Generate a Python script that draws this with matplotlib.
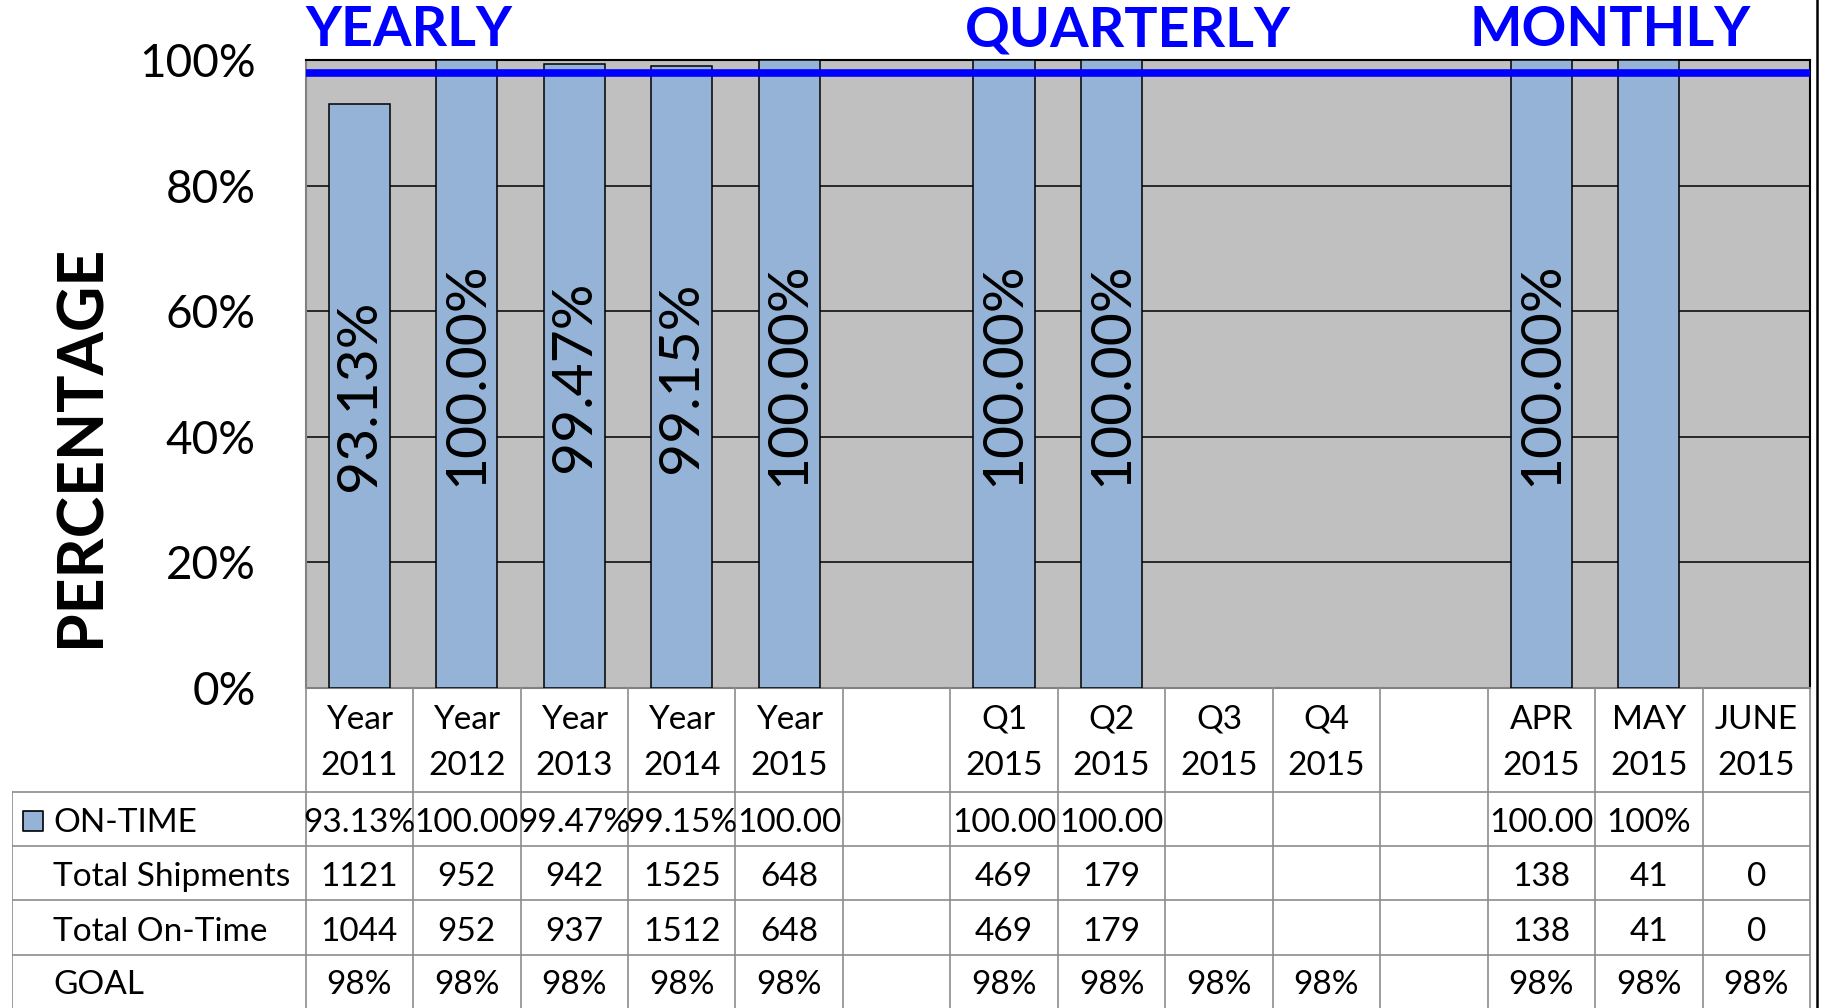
import numpy as np
import matplotlib
matplotlib.use("Agg")
import matplotlib.pyplot as plt
from matplotlib.lines import Line2D
from matplotlib.transforms import blended_transform_factory

plt.rcParams['font.family'] = ['Lato', 'DejaVu Sans']

# --- data ---
categories = ['Year\n2011', 'Year\n2012', 'Year\n2013', 'Year\n2014', 'Year\n2015', '',
              'Q1\n2015', 'Q2\n2015', 'Q3\n2015', 'Q4\n2015', '',
              'APR\n2015', 'MAY\n2015', 'JUNE\n2015']
on_time = [93.13, 100.0, 99.47, 99.15, 100.0, np.nan,
           100.0, 100.0, np.nan, np.nan, np.nan,
           100.0, 100.0, np.nan]
bar_labels = ['93.13%', '100.00%', '99.47%', '99.15%', '100.00%', '',
              '100.00%', '100.00%', '', '', '',
              '100.00%', '', '']
on_time_text = ['93.13%', '100.00', '99.47%', '99.15%', '100.00', '',
                '100.00', '100.00', '', '', '',
                '100.00', '100%', '']
total_shipments = ['1121', '952', '942', '1525', '648', '',
                   '469', '179', '', '', '',
                   '138', '41', '0']
total_on_time = ['1044', '952', '937', '1512', '648', '',
                 '469', '179', '', '', '',
                 '138', '41', '0']
goal = 98.0
goal_text = ['98%', '98%', '98%', '98%', '98%', '',
             '98%', '98%', '98%', '98%', '',
             '98%', '98%', '98%']
row_labels = ['ON-TIME', 'Total Shipments', 'Total On-Time', 'GOAL']
section_titles = ['YEARLY', 'QUARTERLY', 'MONTHLY']
section_centers = [0.46, 7.15, 11.64]

bar_color = '#95B3D7'
W, H = 1822, 1008
plot_l, plot_r, plot_t, plot_b = 305.6, 1810.0, 60.4, 688.0
leg_l = 11.6
n = len(categories)
col_w = (plot_r - plot_l) / n

fig = plt.figure(figsize=(W / 100, H / 100), dpi=100)
ax = fig.add_axes([plot_l / W, 1 - plot_b / H, (plot_r - plot_l) / W, (plot_b - plot_t) / H])
ax.set_facecolor('#C0C0C0')

x = np.arange(n)
ax.bar(x, on_time, width=0.57, color=bar_color, edgecolor='black', linewidth=1.1, zorder=3)
for xi, v, lab in zip(x, on_time, bar_labels):
    if lab:
        ax.text(xi, v / 2, lab, rotation=90, ha='center', va='center',
                fontsize=41, color='black', zorder=5)

ax.axhline(goal, color='#0000FF', linewidth=5.5, zorder=4)

ax.set_xlim(-0.5, n - 0.5)
ax.set_ylim(0, 100)
ax.set_yticks([0, 20, 40, 60, 80, 100])
ax.set_yticklabels(['0%', '20%', '40%', '60%', '80%', '100%'], fontsize=33)
ax.tick_params(axis='y', length=0, pad=36)
ax.set_xticks([])
ax.yaxis.grid(True, color='black', linewidth=1.1, zorder=1)
ax.set_axisbelow(True)
for side in ['top', 'right']:
    ax.spines[side].set_color('black')
    ax.spines[side].set_linewidth(1.5)
for side in ['left', 'bottom']:
    ax.spines[side].set_color('#808080')
    ax.spines[side].set_linewidth(1.5)

trans = blended_transform_factory(ax.transData, fig.transFigure)
for title, cx in zip(section_titles, section_centers):
    fig.text(cx, 1 - 30 / H, title, transform=trans, ha='center', va='center',
             fontsize=40, fontweight='bold', color='#0000FF')

fig.text(82 / W, 1 - 446 / H, 'PERCENTAGE', rotation=90, ha='center', va='center',
         fontsize=45, fontweight='bold', color='black')

# --- data table below the plot ---
tax = fig.add_axes([leg_l / W, 0, (plot_r - leg_l) / W, (H - plot_b) / H])
x_left = -0.5 - (plot_l - leg_l) / col_w
tax.set_xlim(x_left, n - 0.5)
tax.set_ylim(H, plot_b)
tax.axis('off')

def px2x(px):
    return x_left + (px - leg_l) / col_w

grid_c = '#8C8C8C'
row_edges = [plot_b, 792.0, 846.0, 900.5, 955.0, H]
for k in range(-1, n):
    tax.plot([k + 0.5, k + 0.5], [plot_b, H], color=grid_c, lw=1.2, clip_on=False)
tax.plot([x_left, x_left], [row_edges[1], H], color=grid_c, lw=1.2)
for y in row_edges[1:-1]:
    tax.plot([x_left, n - 0.5], [y, y], color=grid_c, lw=1.2)

head_y = (row_edges[0] + row_edges[1]) / 2 + 3
for xi, cat in zip(x, categories):
    tax.text(xi, head_y, cat, ha='center', va='center', fontsize=24, linespacing=1.7)

rows = [on_time_text, total_shipments, total_on_time, goal_text]
for r, (lab, vals) in enumerate(zip(row_labels, rows)):
    cy = (row_edges[r + 1] + row_edges[r + 2]) / 2 + 4
    tax.text(px2x(53), cy, lab, ha='left', va='center', fontsize=24)
    for xi, s in zip(x, vals):
        if s:
            tax.text(xi, cy, s, ha='center', va='center', fontsize=24)

key_y = (row_edges[1] + row_edges[2]) / 2 + 2
tax.scatter([px2x(33)], [key_y], marker='s', s=200, color=bar_color,
            edgecolor='black', linewidth=1.2, zorder=3)

fig.add_artist(Line2D([1817 / W, 1817 / W], [0, 1], transform=fig.transFigure,
                      color='black', linewidth=1.8))

fig.savefig('out.png', dpi=100)
